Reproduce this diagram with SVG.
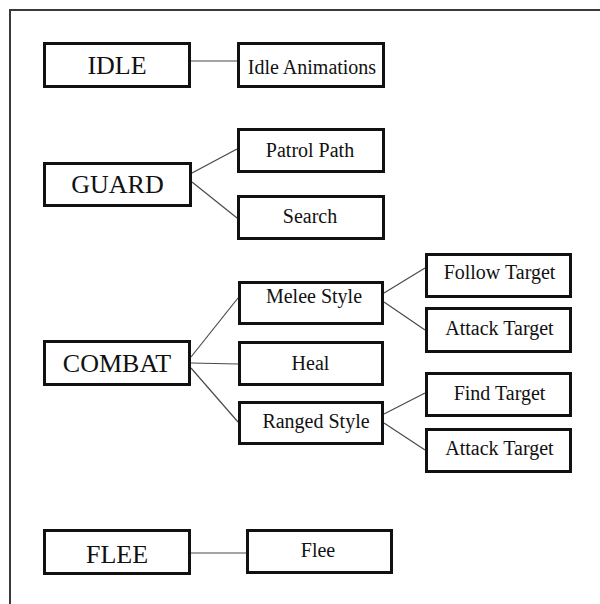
<svg xmlns="http://www.w3.org/2000/svg" width="600" height="604" viewBox="0 0 600 604">
  <style>
    .frame { fill: none; stroke: #3a3a3a; stroke-width: 2; }
    .box { fill: #ffffff; stroke: #111111; stroke-width: 3; }
    .link { fill: none; stroke: #4a4a4a; stroke-width: 1.2; }
    .state { font-family: "Liberation Serif", "Times New Roman", serif; font-size: 26px; fill: #111111; text-anchor: middle; }
    .act { font-family: "Liberation Serif", "Times New Roman", serif; font-size: 20px; fill: #111111; text-anchor: middle; }
  </style>
  <rect width="600" height="604" fill="#ffffff"/>
  <!-- outer frame: top and left edges only -->
  <path class="frame" d="M10 604 V10 H600"/>

  <g id="connectors">
    <line class="link" x1="191" y1="61" x2="237" y2="61"/>
    <line class="link" x1="192" y1="173" x2="237" y2="149"/>
    <line class="link" x1="192" y1="182" x2="237" y2="218"/>
    <line class="link" x1="191" y1="357" x2="238" y2="298"/>
    <line class="link" x1="191" y1="363" x2="238" y2="364"/>
    <line class="link" x1="191" y1="368" x2="238" y2="422"/>
    <line class="link" x1="384" y1="293" x2="425" y2="268"/>
    <line class="link" x1="384" y1="302" x2="425" y2="330"/>
    <line class="link" x1="384" y1="414" x2="425" y2="393"/>
    <line class="link" x1="384" y1="423" x2="425" y2="450"/>
    <line class="link" x1="191" y1="553" x2="246" y2="553"/>
  </g>

  <g id="idle">
    <rect class="box" x="44.5" y="43.5" width="145" height="43"/>
    <text class="state" x="117" y="74">IDLE</text>
  </g>
  <g id="idle-animations">
    <rect class="box" x="238.5" y="43.5" width="145" height="43"/>
    <text class="act" x="312" y="74">Idle Animations</text>
  </g>

  <g id="guard">
    <rect class="box" x="44.5" y="163.5" width="146" height="42"/>
    <text class="state" x="117.5" y="193">GUARD</text>
  </g>
  <g id="patrol-path">
    <rect class="box" x="238.5" y="129.5" width="145" height="42"/>
    <text class="act" x="310" y="157">Patrol Path</text>
  </g>
  <g id="search">
    <rect class="box" x="238.5" y="196.5" width="145" height="42"/>
    <text class="act" x="310" y="223">Search</text>
  </g>

  <g id="combat">
    <rect class="box" x="44.5" y="341.5" width="145" height="43"/>
    <text class="state" x="117" y="372">COMBAT</text>
  </g>
  <g id="melee-style">
    <rect class="box" x="239.5" y="282.5" width="143" height="41"/>
    <text class="act" x="314" y="303">Melee Style</text>
  </g>
  <g id="heal">
    <rect class="box" x="239.5" y="342.5" width="143" height="42"/>
    <text class="act" x="310.5" y="370">Heal</text>
  </g>
  <g id="ranged-style">
    <rect class="box" x="239.5" y="402.5" width="143" height="41"/>
    <text class="act" x="316" y="428">Ranged Style</text>
  </g>
  <g id="follow-target">
    <rect class="box" x="426.5" y="254.5" width="144" height="42"/>
    <text class="act" x="499.5" y="279">Follow Target</text>
  </g>
  <g id="melee-attack-target">
    <rect class="box" x="426.5" y="308.5" width="144" height="43"/>
    <text class="act" x="499.5" y="335">Attack Target</text>
  </g>
  <g id="find-target">
    <rect class="box" x="426.5" y="373.5" width="144" height="42"/>
    <text class="act" x="499.5" y="400">Find Target</text>
  </g>
  <g id="ranged-attack-target">
    <rect class="box" x="426.5" y="429.5" width="144" height="42"/>
    <text class="act" x="499.5" y="455">Attack Target</text>
  </g>

  <g id="flee-state">
    <rect class="box" x="44.5" y="530.5" width="145" height="43"/>
    <text class="state" x="117" y="563">FLEE</text>
  </g>
  <g id="flee">
    <rect class="box" x="247.5" y="530.5" width="144" height="42"/>
    <text class="act" x="318" y="557">Flee</text>
  </g>
</svg>
